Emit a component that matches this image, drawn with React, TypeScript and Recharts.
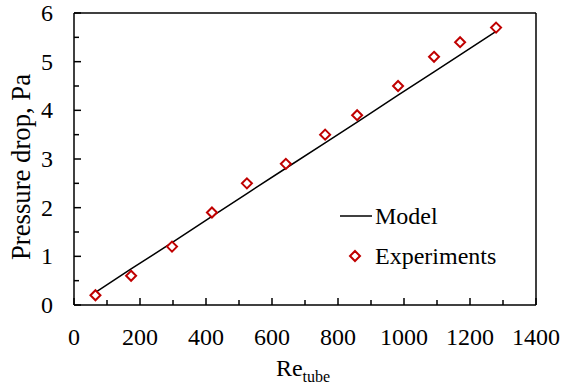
import React from "react";
import {
  ComposedChart,
  Line,
  Scatter,
  XAxis,
  YAxis,
  ReferenceLine,
} from "recharts";

// Reynolds number of the experiment runs, and what we measured / modelled.
const RE_TUBE = [65, 173, 297, 418, 524, 642, 761, 858, 982, 1091, 1170, 1279];
const EXPERIMENTS = [0.2, 0.6, 1.2, 1.9, 2.5, 2.9, 3.5, 3.9, 4.5, 5.1, 5.4, 5.7];
const MODEL = [0.26, 0.74, 1.28, 1.82, 2.29, 2.81, 3.33, 3.76, 4.31, 4.79, 5.14, 5.62];

const X_TICKS = [0, 100, 200, 300, 400, 500, 600, 700, 800, 900, 1000, 1100, 1200, 1300, 1400];
const Y_TICKS = [0, 0.5, 1, 1.5, 2, 2.5, 3, 3.5, 4, 4.5, 5, 5.5, 6];

const rows = RE_TUBE.map((re, i) => ({ re, exp: EXPERIMENTS[i], model: MODEL[i] }));

const FONT = "Liberation Serif";
const RED = "#c00000";
const AXIS_W = 1.5;

// ticks point inward; only the major ones get a label
const XTick = (props: any) => {
  const { x, y, payload } = props;
  const major = payload.value % 200 === 0;
  return (
    <g>
      <line x1={x} y1={y} x2={x} y2={y - (major ? 7 : 5)} stroke="#000" strokeWidth={AXIS_W} />
      {major && (
        <text x={x} y={y + 40} textAnchor="middle" style={{ fontFamily: FONT, fontSize: 24 }} fill="#000">
          {payload.value}
        </text>
      )}
    </g>
  );
};

const YTick = (props: any) => {
  const { x, y, payload } = props;
  const major = payload.value % 1 === 0;
  return (
    <g>
      <line x1={x} y1={y} x2={x + (major ? 7 : 5)} y2={y} stroke="#000" strokeWidth={AXIS_W} />
      {major && (
        <text x={x - 21} y={y + 8} textAnchor="end" style={{ fontFamily: FONT, fontSize: 24 }} fill="#000">
          {payload.value}
        </text>
      )}
    </g>
  );
};

const Diamond = (props: any) => {
  const { cx, cy } = props;
  const r = 5;
  return (
    <path
      d={`M${cx},${cy - r}L${cx + r},${cy}L${cx},${cy + r}L${cx - r},${cy}Z`}
      fill="#fff"
      stroke={RED}
      strokeWidth={2}
    />
  );
};

// legend sits inside the plot, lower right
const LegendBox = () => (
  <div
    style={{
      position: "absolute",
      left: 338,
      top: 196,
      fontFamily: FONT,
      fontSize: 24,
      color: "#000",
      lineHeight: "40px",
    }}
  >
    <div style={{ display: "flex", alignItems: "center" }}>
      <svg width={37} height={20}>
        <line x1={2} y1={10} x2={34} y2={10} stroke="#000" strokeWidth={1.5} />
      </svg>
      <span>Model</span>
    </div>
    <div style={{ display: "flex", alignItems: "center" }}>
      <svg width={37} height={20}>
        <path d="M17,5L22,10L17,15L12,10Z" fill="#fff" stroke={RED} strokeWidth={2} />
      </svg>
      <span>Experiments</span>
    </div>
  </div>
);

export default function App() {
  return (
    <div style={{ position: "absolute", left: 0, top: 0, width: 561, height: 386, background: "#fff" }}>
      <ComposedChart width={561} height={386} data={rows} margin={{ top: 13, right: 25, left: 0, bottom: 0 }}>
        <XAxis
          dataKey="re"
          type="number"
          domain={[0, 1400]}
          ticks={X_TICKS}
          interval={0}
          tickLine={false}
          tickSize={0}
          tickMargin={0}
          tick={<XTick />}
          height={81}
          stroke="#000"
          strokeWidth={AXIS_W}
          label={{
            content: (p: any) => {
              const vb = p.viewBox;
              return (
                <text x={vb.x + vb.width / 2 - 2} y={376} textAnchor="middle" style={{ fontFamily: FONT }} fill="#000">
                  <tspan fontSize={24}>Re</tspan>
                  <tspan fontSize={16} dy={6}>tube</tspan>
                </text>
              );
            },
          }}
        />
        <YAxis
          type="number"
          domain={[0, 6]}
          ticks={Y_TICKS}
          interval={0}
          tickLine={false}
          tickSize={0}
          tickMargin={0}
          tick={<YTick />}
          width={74}
          stroke="#000"
          strokeWidth={AXIS_W}
          label={{
            content: () => {
              const cy = 167;
              return (
                <text
                  x={30}
                  y={cy}
                  transform={`rotate(-90 30 ${cy})`}
                  textAnchor="middle"
                  style={{ fontFamily: FONT, fontSize: 26.7 }}
                  fill="#000"
                >
                  Pressure drop, Pa
                </text>
              );
            },
          }}
        />
        <ReferenceLine x={1400} stroke="#000" strokeWidth={AXIS_W} ifOverflow="visible" />
        <ReferenceLine y={6} stroke="#000" strokeWidth={AXIS_W} ifOverflow="visible" />
        <Line
          dataKey="model"
          stroke="#000"
          strokeWidth={1.5}
          dot={false}
          activeDot={false}
          isAnimationActive={false}
        />
        <Scatter dataKey="exp" shape={<Diamond />} isAnimationActive={false} />
      </ComposedChart>
      <LegendBox />
    </div>
  );
}
